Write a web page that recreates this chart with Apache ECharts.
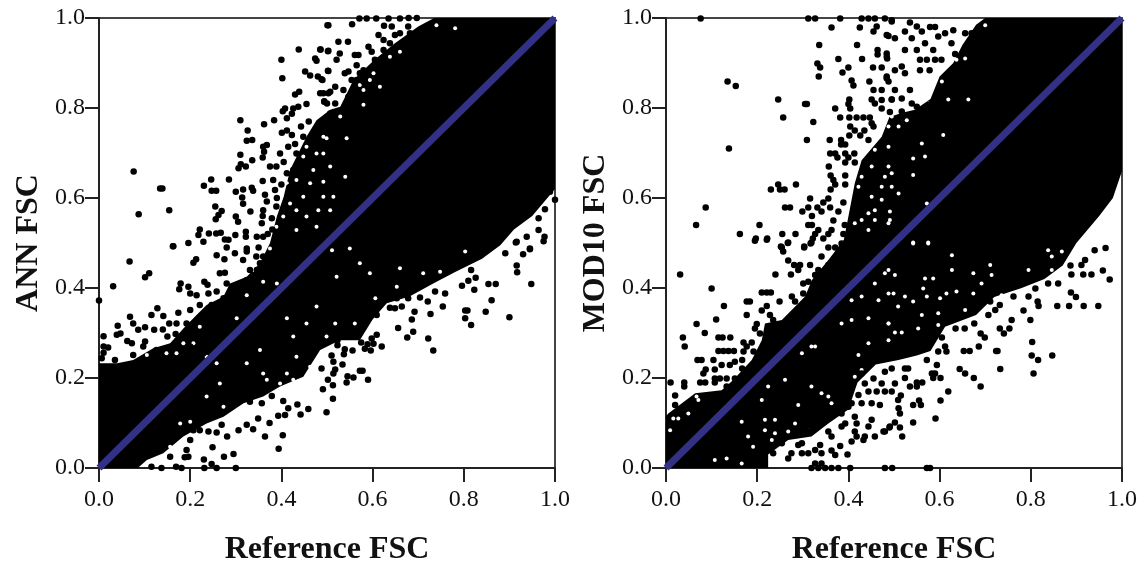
<!DOCTYPE html>
<html>
<head>
<meta charset="utf-8">
<style>
  html, body { margin: 0; padding: 0; background: #fff; }
  #main { width: 1143px; height: 566px; }
</style>
</head>
<body>
<div id="main"></div>
<script src="https://cdn.jsdelivr.net/npm/echarts@6/dist/echarts.min.js"></script>
<script>
// one-to-one line, same in both panels
const diagonal = [[0, 0], [1, 1]];
const tickLabels = ['0.0', '0.2', '0.4', '0.6', '0.8', '1.0'];

// outline of the part of each cloud where the dots merge into solid black
const annSolid = [[0,0],[.085,0],[.105,.018],[.141,.033],[.185,.07],[.236,.099],[.273,.114],[.317,.144],[.36,.159],[.397,.181],[.448,.203],[.485,.262],[.528,.284],[.572,.284],[.6,.33],[.631,.366],[.681,.381],[.733,.41],[.78,.435],[.84,.465],[.88,.495],[.91,.53],[.95,.56],[1,.62],[1,1],[.735,1],[.7,.981],[.649,.944],[.604,.907],[.558,.862],[.529,.803],[.507,.796],[.477,.773],[.455,.736],[.419,.662],[.405,.603],[.39,.559],[.375,.5],[.353,.455],[.324,.425],[.287,.41],[.273,.381],[.236,.362],[.214,.34],[.185,.31],[.156,.277],[.119,.266],[.075,.24],[.04,.233],[0,.233]];
const modSolid = [[0,0],[.224,0],[.224,.03],[.268,.062],[.319,.07],[.356,.099],[.4,.13],[.42,.19],[.46,.23],[.51,.24],[.55,.25],[.58,.26],[.612,.314],[.68,.34],[.72,.38],[.78,.4],[.83,.42],[.87,.45],[.9,.5],[.95,.56],[.98,.6],[1,.66],[1,1],[.7,1],[.68,.985],[.65,.94],[.63,.9],[.6,.87],[.58,.82],[.546,.796],[.52,.79],[.49,.78],[.473,.736],[.429,.684],[.414,.633],[.4,.559],[.39,.507],[.356,.462],[.32,.418],[.305,.381],[.254,.329],[.217,.321],[.21,.284],[.188,.24],[.148,.196],[.122,.173],[.064,.166],[.005,.121],[0,.115]];

// white specks where the dots leave the cloud open
const annGaps = [
[.236,.159],[.265,.188],[.324,.233],[.353,.262],[.412,.333],[.455,.321],[.477,.359],[.426,.292],[.36,.21],[.412,.21],[.433,.247],[.463,.225],[.207,.277],[.302,.333],[.331,.333],[.324,.384],[.36,.414],[.375,.488],[.338,.44],[.317,.47],[.287,.429],[.39,.41],[.258,.233],[.236,.247],[.273,.299],[.298,.299],[.221,.314],[.185,.277],[.148,.255],[.17,.255],[.105,.251],[.426,.196],[.397,.188],[.368,.196],[.273,.136],[.2,.103],[.178,.099],[.156,.047],
[.448,.692],[.492,.603],[.481,.573],[.463,.633],[.412,.633],[.433,.64],[.419,.692],[.39,.647],[.448,.603],[.433,.573],[.404,.559],[.419,.588],[.477,.699],[.47,.662],[.492,.736],[.455,.714],[.389,.536],[.433,.529],[.477,.536],[.455,.559],
[.499,.733],[.492,.699],[.507,.67],[.492,.636],[.507,.573],[.514,.603],[.529,.781],[.58,.807],[.58,.84],[.594,.862],[.572,.851],[.602,.877],[.616,.847],[.66,.925],[.638,.914],[.74,.984],[.781,.977],[.543,.733],[.54,.647],
[.594,.433],[.55,.488],[.511,.484],[.66,.444],[.748,.436],[.711,.433],[.572,.455],[.521,.425],[.803,.481],[.653,.403],[.606,.377],[.561,.321],[.518,.321],[.499,.292]
];
const modGaps = [
[.016,.11],[.027,.11],[.049,.121],[.009,.084],[.071,.151],[.067,.159],[.107,.018],[.133,.021],[.166,.01],[.166,.103],[.21,.151],[.224,.181],[.261,.196],[.29,.14],[.239,.107],[.268,.081],[.217,.084],[.232,.062],[.232,.025],[.29,.033],[.319,.27],[.298,.255],[.422,.251],[.466,.373],[.48,.433],[.458,.41],[.488,.388],[.444,.333],[.488,.321],[.488,.284],[.444,.277],[.356,.159],[.312,.084],[.422,.159],[.414,.203],[.429,.218],[.319,.181],[.385,.321],[.407,.329],[.407,.373],[.18,.07],[.191,.047],[.327,.27],[.341,.166],[.283,.099],[.239,.077],[.363,.144],[.217,.107],[.429,.381],
[.422,.625],[.48,.647],[.458,.573],[.488,.67],[.451,.603],[.473,.596],[.429,.551],[.488,.544],[.444,.529],[.458,.707],[.488,.714],[.451,.67],[.429,.647],[.414,.544],[.392,.559],[.473,.625],[.444,.566],[.458,.551],[.488,.759],
[.491,.944],[.513,.921],[.568,.929],[.495,.892],[.524,.888],[.575,.892],[.506,.84],[.524,.825],[.502,.818],[.535,.803],[.51,.759],[.528,.773],[.495,.781],[.575,.81],[.605,.859],[.561,.862],[.619,.819],[.634,.921],[.63,.944],[.619,.984],[.671,.984],[.7,.984],[.637,.907],[.495,.655],[.491,.57],[.51,.61],[.542,.651],[.572,.588],[.491,.551],[.542,.499],[.575,.499],[.495,.625],[.542,.688],[.568,.692],[.561,.721],[.608,.74],[.524,.862],[.663,.819],[.656,.91],
[.488,.44],[.502,.429],[.542,.501],[.575,.501],[.568,.421],[.586,.421],[.627,.44],[.674,.433],[.714,.429],[.795,.44],[.846,.44],[.499,.388],[.564,.399],[.615,.388],[.637,.392],[.674,.388],[.509,.359],[.542,.37],[.561,.34],[.601,.377],[.553,.31],[.502,.301],[.517,.301],[.488,.321],[.597,.318],[.656,.351],[.692,.41],[.736,.384],[.711,.451],[.627,.473],[.846,.47],[.868,.481],[.838,.484],[.597,.344],[.572,.381],[.524,.381]
];

// single dots
const annDots = [
[.067,.459],[.031,.404],[.101,.424],[.110,.433],[.163,.493],[.196,.5],[.229,.503],[.207,.456],[.213,.464],[.258,.473],[.275,.464],[.28,.49],[.298,.477],[0,.372],[.179,.41],[.176,.397],[.196,.403],[.231,.414],[.238,.407],[.265,.433],[.276,.434],[.128,.355],[.115,.34],[.068,.336],[.141,.338],[.174,.345],[.041,.316],[.075,.321],
[.101,.313],[.086,.307],[.121,.307],[.14,.308],[.154,.321],[.01,.293],[.039,.296],[.047,.299],[.062,.282],[.072,.277],[.01,.27],[.02,.268],[.01,.256],[.006,.244],[.101,.281],[.15,.292],[.168,.298],[.035,.24],[.075,.251],[.097,.27],[.126,.262],[.163,.273],[.189,.292],[.2,.27],[.229,.255],[.273,.299],[.302,.307],
[.2,.388],[.214,.384],[.24,.388],[.258,.392],[.28,.41],[.298,.396],[.324,.481],[.331,.44],[.353,.455],[.36,.47],[.382,.462],[.316,.462],[.2,.351],[.221,.362],[.247,.362],[.273,.377],[.302,.359],[.232,.34],[.192,.321],[.207,.307],[.17,.321],[.258,.336],[.287,.336],[.317,.321],[.338,.373],[.368,.396],[.39,.381],[.346,.44],[.324,.418],
[.38,.53],[.39,.6],[.4,.63],[.405,.68],[.43,.72],[.46,.77],[.5,.81],[.35,.49],[.37,.52],[.345,.47],
[.115,.003],[.137,0],[.169,.003],[.181,0],[.231,0],[.247,.009],[.258,0],[.3,0],[.23,.019],[.274,.025],[.295,.031],[.249,.046],[.196,.025],[.188,.024],[.192,.04],[.156,.025],[.2,.062],[.24,.081],[.258,.079],[.281,.07],[.221,.084],[.207,.084],[.269,.096],[.306,.084],[.324,.096],[.338,.086],[.349,.11],[.364,.07],[.374,.1],[.394,.043],[.403,.073],[.393,.116],[.408,.118],[.442,.119],[.459,.131],[.499,.124],[.415,.133],[.435,.141],[.404,.149],[.379,.16],[.357,.144],[.331,.147],[.309,.15],
[.513,.154],[.491,.175],[.513,.184],[.502,.196],[.543,.19],[.545,.204],[.558,.201],[.59,.196],[.572,.216],[.578,.216],[.514,.21],[.518,.219],[.534,.23],[.514,.236],[.51,.25],[.488,.221],[.537,.253],[.539,.264],[.556,.261],[.523,.273],[.596,.261],[.589,.275],[.583,.265],[.575,.279],[.62,.27],[.602,.276],[.609,.296],[.598,.288],[.656,.311],[.676,.29],[.689,.303],[.686,.33],[.692,.347],[.722,.288],[.733,.261],[.727,.342],[.754,.359],[.721,.37],[.759,.388],[.803,.333],[.816,.318],[.803,.35],[.808,.35],[.848,.347],[.9,.335],[.861,.373],[.823,.396],[.796,.405],[.854,.409],[.87,.409],[.948,.409],[.916,.45],[.917,.435],[.93,.475],[.945,.486],[.975,.504],[.914,.501],[.891,.477],[.826,.423],[.81,.416],[.816,.44],[.737,.392],[.704,.379],[.678,.377],[.653,.377],[.664,.359],[.649,.355],[.638,.356],[.609,.34],[.558,.296],[.547,.292],[.523,.284],
[.977,.514],[.945,.488],[.938,.514],[.916,.503],[.964,.529],[.978,.575],[1,.596],[.989,.614],[.964,.555],
[.571,.999],[.587,.999],[.608,.999],[.635,.999],[.66,.999],[.679,1],[.697,1],[.503,.984],[.555,.986],[.525,.947],[.546,.947],[.503,.927],[.528,.921],[.521,.907],[.486,.93],[.503,.882],[.488,.864],[.561,.918],[.569,.918],[.565,.895],[.591,.936],[.598,.925],[.613,.962],[.624,.951],[.625,.983],[.642,.981],[.649,.962],[.66,.966],[.678,.981],[.682,.966],[.638,.944],[.624,.929],[.605,.907],[.58,.884],[.547,.881],[.539,.877],[.565,.862],[.554,.862],[.518,.847],[.507,.836],[.492,.833],[.494,.814],[.518,.81],[.536,.84],[.547,.825],[.572,.877],[.58,.859],[.507,.788],
[.501,.984],[.438,.93],[.485,.93],[.502,.926],[.4,.907],[.474,.91],[.477,.905],[.452,.881],[.463,.872],[.48,.87],[.49,.862],[.502,.883],[.402,.866],[.439,.836],[.43,.83],[.485,.833],[.503,.833],[.494,.815],[.408,.799],[.403,.793],[.426,.799],[.437,.803],[.455,.809],[.423,.787],[.412,.777],[.384,.773],[.362,.764],[.31,.773],[.326,.75],[.324,.727],[.336,.729],[.401,.745],[.412,.75],[.423,.74],[.443,.759],[.36,.714],[.368,.718],[.362,.703],[.359,.69],[.31,.696],[.336,.684],[.306,.666],[.311,.675],[.322,.67],[.397,.699],[.415,.714],[.285,.641],[.246,.641],[.23,.627],[.247,.616],[.257,.616],[.3,.614],[.316,.619],[.335,.623],[.338,.616],[.359,.638],[.076,.659],[.134,.621],[.139,.621],[.087,.564],[.154,.573],[.255,.581],[.269,.571],[.262,.562],[.256,.553],[.314,.601],[.316,.587],[.3,.559],[.305,.547],[.332,.57],[.36,.573],[.359,.56],[.364,.607],[.368,.592],[.221,.53],[.218,.518],[.241,.521],[.257,.521],[.267,.523],[.276,.508],[.284,.507],[.299,.518],[.322,.525],[.322,.514],[.162,.493],[.386,.618],[.382,.64],[.375,.67],[.389,.67],[.412,.655],[.419,.625],[.389,.581],[.379,.555],[.357,.544],[.346,.514],[.36,.514],[.324,.488],[.433,.699],[.448,.736],[.426,.662]
];

// single dots
const modDots = [
[.076,.999],[.312,.999],[.327,.999],[.382,.999],[.429,.999],[.444,.999],[.458,.999],[.48,.999],[.495,.995],[.363,.979],[.425,.979],[.455,.97],[.462,.981],[.488,.96],[.336,.94],[.419,.94],[.464,.929],[.464,.919],[.484,.921],[.485,.91],[.378,.909],[.43,.909],[.332,.899],[.338,.89],[.387,.879],[.4,.89],[.454,.89],[.473,.89],[.335,.87],[.407,.861],[.411,.85],[.446,.859],[.484,.866],[.488,.859],[.135,.859],[.153,.849],[.455,.84],[.473,.84],[.246,.819],[.451,.819],[.458,.81],[.495,.819],[.473,.818],[.473,.799],[.402,.819],[.4,.809],[.404,.799],[.305,.809],[.309,.809],[.371,.799],[.382,.779],[.257,.779],[.323,.769],[.402,.779],[.418,.779],[.433,.779],[.447,.779],[.451,.766],[.404,.759],[.414,.75],[.435,.75],[.402,.739],[.426,.739],[.444,.729],[.455,.759],[.309,.729],[.359,.729],[.138,.71],[.384,.729],[.384,.719],[.393,.719],[.36,.699],[.371,.699],[.376,.69],[.393,.699],[.413,.699],[.4,.69],[.393,.679],[.414,.679],[.357,.67],[.361,.65],[.393,.65],[.367,.64],[.371,.63],[.285,.63],[.246,.63],[.23,.619],[.25,.619],[.26,.619],[.361,.619],[.393,.63],[.316,.599],[.356,.599],[.087,.579],[.261,.579],[.272,.579],[.312,.579],[.332,.579],[.345,.59],[.36,.579],[.378,.57],[.389,.59],[.299,.57],[.341,.57],[.32,.56],[.367,.55],[.312,.54],[.32,.54],[.066,.54],[.205,.54],[.392,.54],[.162,.52],[.255,.52],[.284,.52],[.334,.529],[.327,.52],[.363,.529],[.356,.52],[.389,.52],[.197,.51],[.222,.51],[.322,.51],[.345,.51],[.267,.5],[.385,.499],[.254,.49],[.303,.49],[.317,.499],[.356,.49],[.371,.49],
[.031,.43],[.1,.399],[.127,.36],[.11,.33],[.067,.32],[.085,.3],[.037,.29],[.041,.27],[.115,.29],[.124,.29],[.141,.29],[.115,.26],[.126,.26],[.137,.26],[.149,.26],[.069,.24],[.078,.24],[.104,.24],[.01,.19],[.04,.19],[.04,.181],[.02,.161],[.02,.14],[.087,.219],[.082,.21],[.107,.219],[.122,.229],[.14,.229],[.151,.236],[.167,.24],[.167,.221],[.075,.19],[.086,.19],[.107,.199],[.118,.199],[.133,.199],[.151,.199],[.107,.19],[.133,.181],[.17,.279],[.188,.279],[.177,.27],[.192,.259],[.17,.259],[.177,.34],[.177,.37],[.184,.37],[.21,.39],[.221,.39],[.23,.39],[.249,.37],[.221,.36],[.21,.35],[.228,.34],[.235,.329],[.195,.31],[.199,.32],[.206,.299],[.24,.43],[.274,.43],[.252,.492],[.257,.481],[.268,.501],[.268,.461],[.281,.451],[.294,.451],[.29,.44],[.195,.505],[.221,.507],[.303,.492],[.319,.501],[.276,.381],[.283,.37],[.301,.388],[.316,.451],[.334,.44],[.327,.429],[.312,.414],[.301,.41],[.341,.47],[.356,.451],[.352,.421],[.385,.488],[.374,.462],[.393,.451],
[.455,.199],[.444,.17],[.462,.17],[.469,.14],[.422,.162],[.407,.144],[.429,.144],[.451,.144],[.451,.107],[.444,.092],[.418,.099],[.393,.099],[.477,.081],[.491,.092],[.436,.07],[.458,.07],[.433,.062],[.414,.081],[.418,.07],[.407,.059],[.398,.03],[.382,.049],[.363,.039],[.371,.029],[.338,.051],[.319,.081],[.308,.084],[.356,.081],[.312,.033],[.298,.033],[.268,.021],[.29,.051],[.228,.047],[.235,.033],[.327,.01],[.341,.01],[.319,0],[.334,0],[.349,0],[.363,0],[.378,0],[.404,0],[.48,0],[.496,0],
[.385,.121],[.4,.136],[.414,.114],[.385,.092],[.363,.07],[.327,.04],[.341,.033],[.275,.033],[.298,.055],[.254,.055],[.444,.24],[.458,.251],[.429,.21],[.48,.214],[.495,.221],[.488,.247],[.473,.188],[.502,.188],[.436,.188],
[.572,0],[.579,0],[.518,.07],[.49,.09],[.513,.09],[.502,.101],[.48,.081],[.542,.101],[.591,.11],[.513,.121],[.51,.133],[.542,.14],[.559,.14],[.555,.15],[.602,.15],[.619,.17],[.509,.151],[.515,.161],[.48,.17],[.495,.17],[.535,.181],[.55,.181],[.55,.19],[.562,.19],[.69,.181],[.675,.2],[.656,.21],[.644,.22],[.602,.2],[.583,.21],[.59,.21],[.586,.2],[.524,.2],[.531,.221],[.524,.221],[.733,.22],[.806,.21],[.816,.24],[.802,.25],[.847,.25],[.724,.26],[.727,.26],[.803,.28],[.653,.26],[.666,.26],[.686,.27],[.699,.29],[.69,.299],[.741,.299],[.732,.31],[.753,.31],[.758,.329],[.799,.329],[.635,.31],[.655,.31],[.676,.321],[.784,.35],[.858,.36],[.884,.36],[.916,.36],[.948,.36],[.817,.36],[.815,.37],[.888,.39],[.899,.38],[.973,.419],[.958,.439],[.889,.43],[.915,.43],[.933,.43],[.887,.45],[.964,.489],[.919,.462],[.911,.451],[.94,.484],[.722,.351],[.707,.34],[.732,.362],[.711,.37],[.762,.381],[.795,.381],[.612,.27],[.615,.259],[.597,.259],[.605,.29],[.586,.29],[.594,.229],[.572,.24],[.838,.41],[.86,.41],[.81,.399],
[.495,.992],[.535,.99],[.55,.981],[.579,.98],[.59,.98],[.524,.97],[.484,.962],[.502,.955],[.539,.955],[.561,.97],[.597,.959],[.55,.929],[.524,.929],[.568,.944],[.586,.929],[.484,.914],[.557,.907],[.572,.907],[.59,.907],[.502,.884],[.517,.892],[.557,.884],[.578,.884],[.484,.87],[.524,.877],[.502,.84],[.535,.84],[.517,.821],[.495,.819],[.539,.81],[.491,.791],[.517,.792],[.55,.803],[.576,.807],[.626,.944],[.634,.92],[.612,.966],[.656,.966],[.63,.973],[.604,.907],[.67,.966]
];

const serif = '"Liberation Serif", "Times New Roman", serif';
const chart = echarts.init(document.getElementById('main'));

function axisFor(gridIndex, name, nameGap, margin) {
  return {
    gridIndex: gridIndex, type: 'value', min: 0, max: 1, interval: 0.2,
    name: name, nameLocation: 'middle', nameGap: nameGap,
    nameTextStyle: { fontFamily: serif, fontWeight: 'bold', fontSize: 32, color: '#111' },
    axisLine: { lineStyle: { color: '#222', width: 2 } },
    axisTick: { length: 14, lineStyle: { color: '#222', width: 2 } },
    axisLabel: {
      fontFamily: serif, fontSize: 24, color: '#111', margin: margin,
      formatter: function (v) { return tickLabels[Math.round(v * 5)]; }
    },
    splitLine: { show: false }
  };
}

function panelSeries(axisIndex, solid, gaps, dots) {
  return [
    {
      type: 'custom', xAxisIndex: axisIndex, yAxisIndex: axisIndex, z: 2, silent: true,
      data: [[0, 0]],
      renderItem: function (params, api) {
        return {
          type: 'polygon',
          shape: { points: solid.map(function (p) { return api.coord(p); }) },
          style: { fill: '#000' }
        };
      }
    },
    {
      type: 'scatter', xAxisIndex: axisIndex, yAxisIndex: axisIndex, z: 3, silent: true,
      data: gaps, symbolSize: 4, itemStyle: { color: '#fff', opacity: 1 }
    },
    {
      type: 'scatter', xAxisIndex: axisIndex, yAxisIndex: axisIndex, z: 4, silent: true,
      data: dots, symbolSize: 6.5, clip: false, itemStyle: { color: '#000', opacity: 1 }
    },
    {
      type: 'line', xAxisIndex: axisIndex, yAxisIndex: axisIndex, z: 5, silent: true,
      data: diagonal, symbol: 'none', lineStyle: { color: '#333186', width: 7 }
    }
  ];
}

chart.setOption({
  animation: false,
  backgroundColor: '#fff',
  grid: [
    { left: 99, top: 18, width: 456, height: 450, outerBoundsMode: 'none', show: true, borderColor: '#444', borderWidth: 2 },
    { left: 666, top: 18, width: 456, height: 450, outerBoundsMode: 'none', show: true, borderColor: '#444', borderWidth: 2 }
  ],
  xAxis: [axisFor(0, 'Reference FSC', 66, 20), axisFor(1, 'Reference FSC', 66, 20)],
  yAxis: [axisFor(0, 'ANN FSC', 54, 14), axisFor(1, 'MOD10 FSC', 54, 14)],
  series: panelSeries(0, annSolid, annGaps, annDots).concat(panelSeries(1, modSolid, modGaps, modDots))
});
</script>
</body>
</html>
